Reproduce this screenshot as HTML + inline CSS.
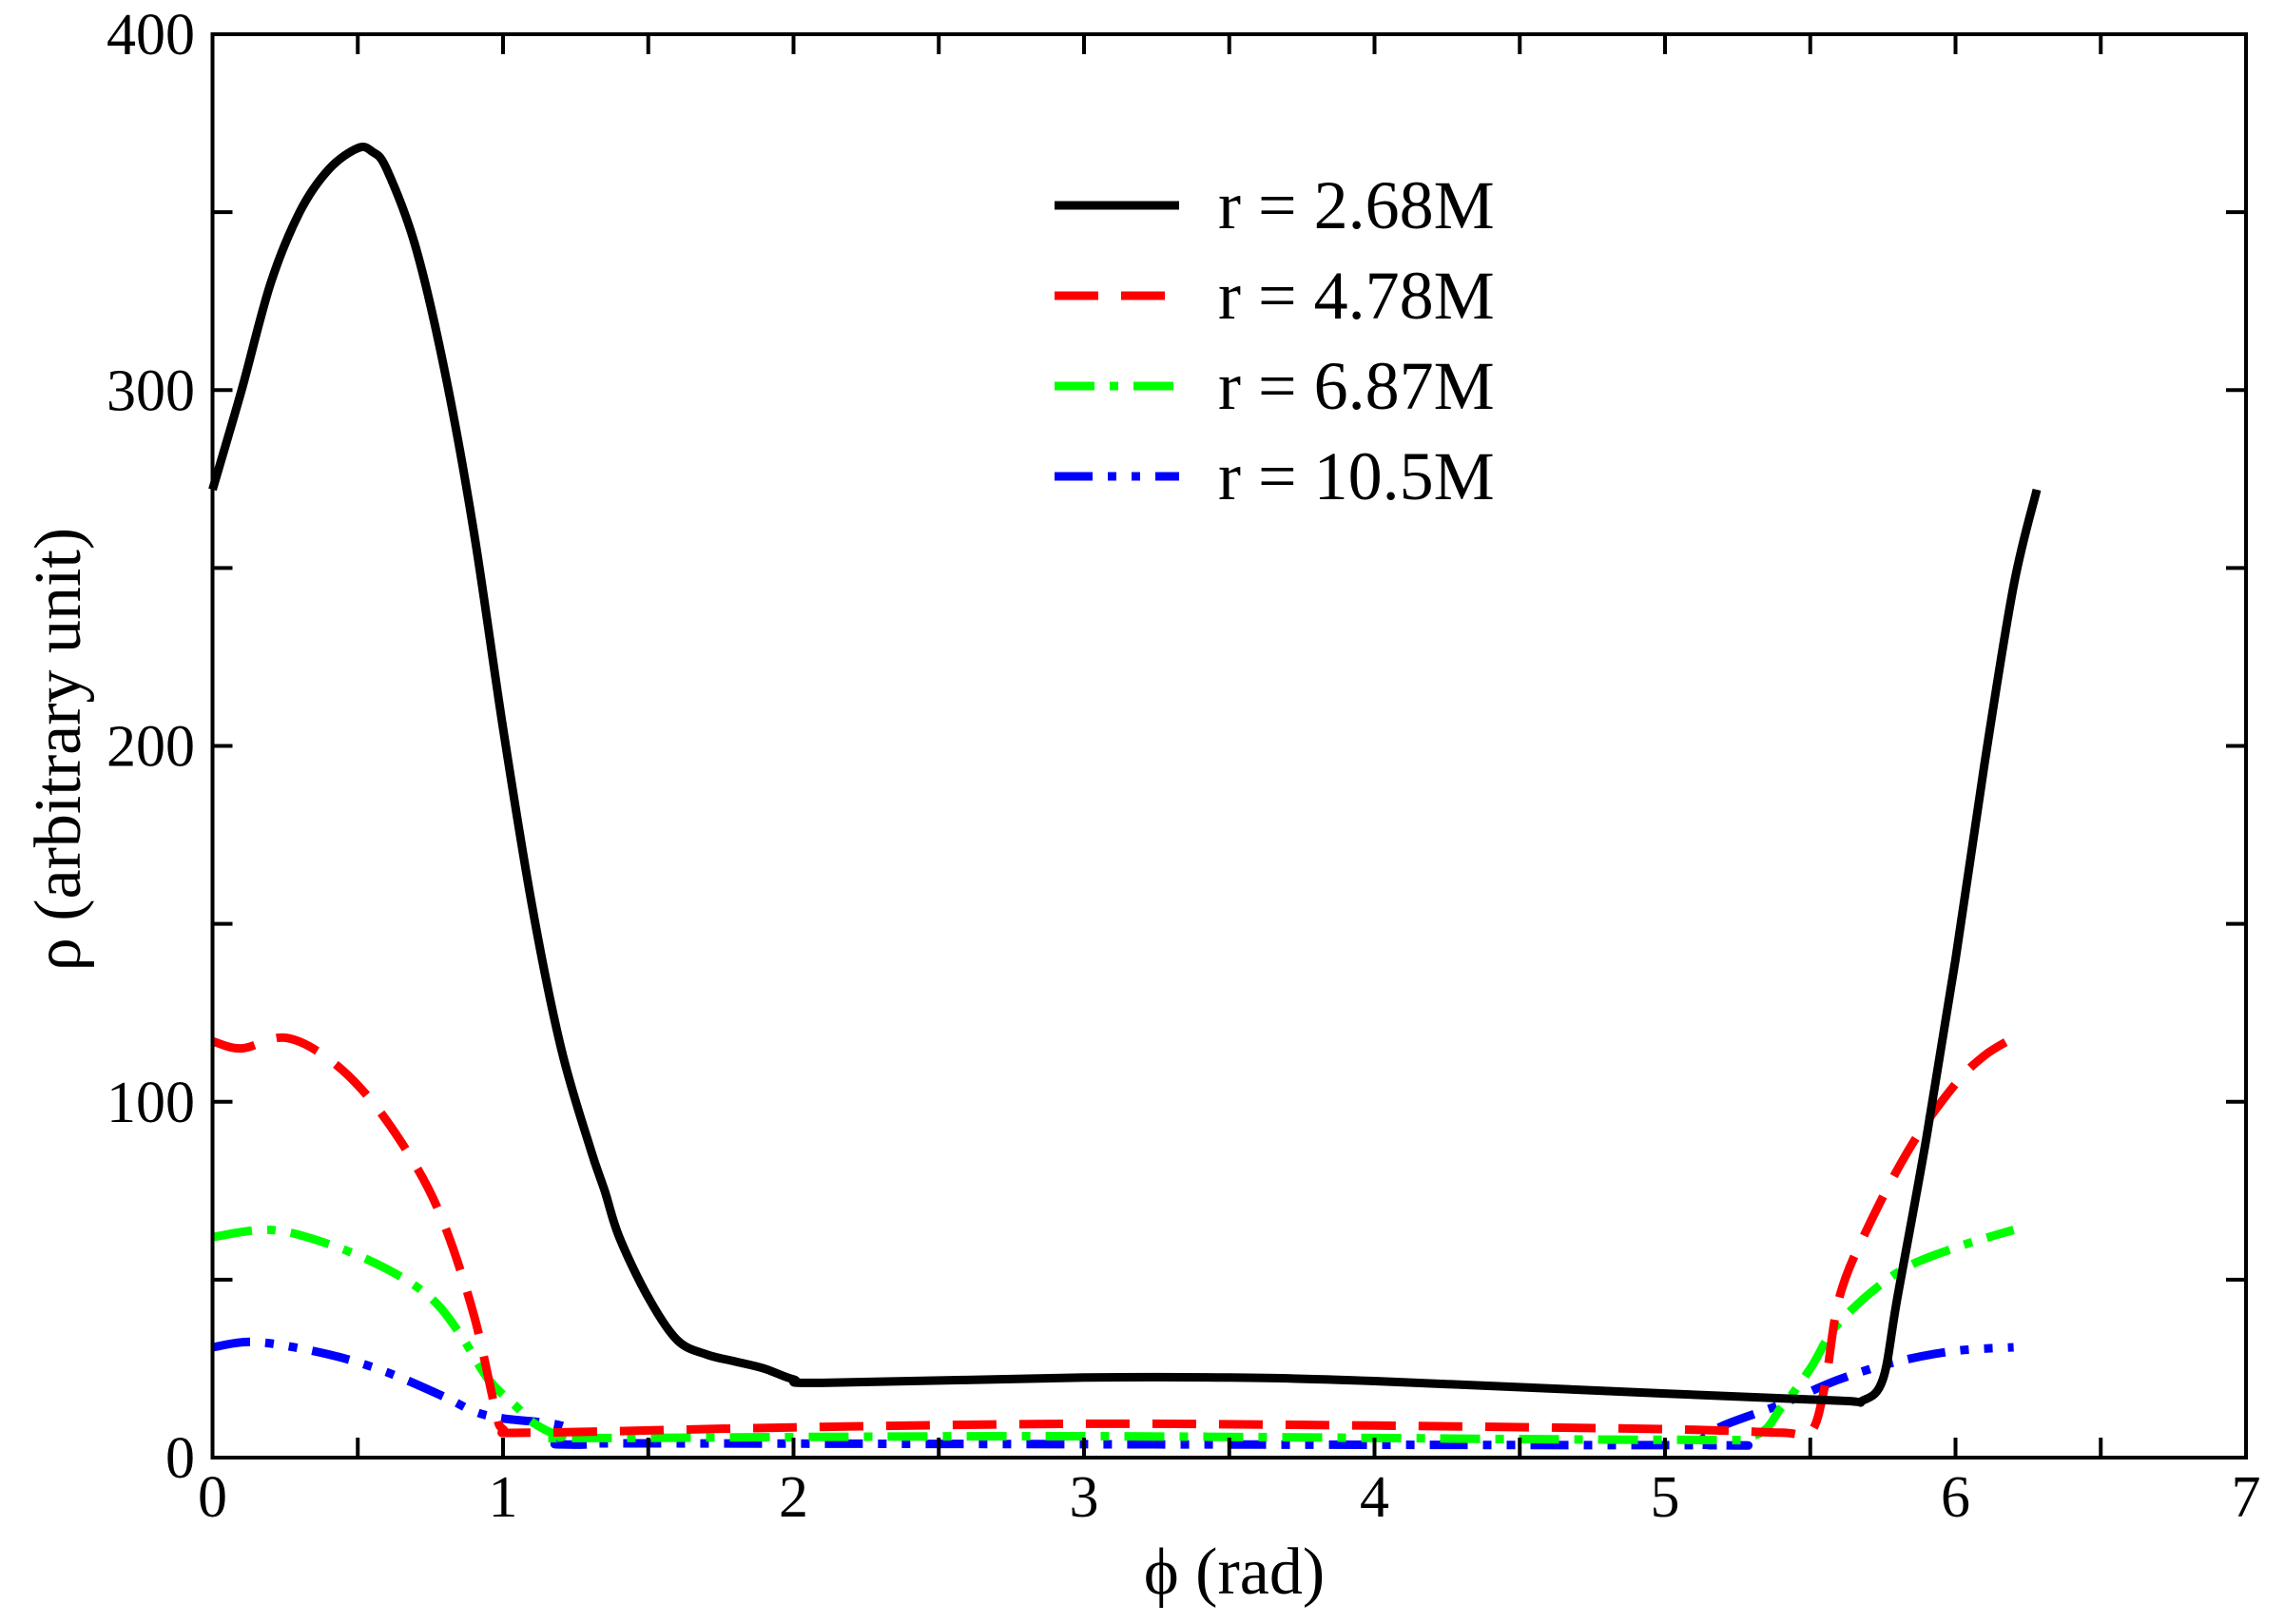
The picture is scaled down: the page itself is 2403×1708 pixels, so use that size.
<!DOCTYPE html>
<html><head><meta charset="utf-8"><style>body{margin:0;background:#fff}svg{display:block}</style></head><body>
<svg id="s" width="2403" height="1708" xmlns="http://www.w3.org/2000/svg" font-family="'Liberation Serif',serif"></svg>
<script>
const L=223.5,R=2362,T=36,B=1533;
const X=v=>L+(R-L)*v/7, Y=v=>B-(B-T)*v/400;
let h='<rect width="2403" height="1708" fill="#fff"/>';
function path(pts,col,dash){
 const P=pts.map(p=>[X(p[0]),Y(p[1])]);
 let d='M'+P[0][0].toFixed(1)+' '+P[0][1].toFixed(1);
 for(let i=0;i<P.length-1;i++){const p0=P[Math.max(0,i-1)],p1=P[i],p2=P[i+1],p3=P[Math.min(P.length-1,i+2)];
  const c1=[p1[0]+(p2[0]-p0[0])/6,p1[1]+(p2[1]-p0[1])/6],c2=[p2[0]-(p3[0]-p1[0])/6,p2[1]-(p3[1]-p1[1])/6];
  d+=' C'+c1.map(v=>v.toFixed(1)).join(' ')+' '+c2.map(v=>v.toFixed(1)).join(' ')+' '+p2.map(v=>v.toFixed(1)).join(' ');}
 return '<path d="'+d+'" fill="none" stroke="'+col+'" stroke-width="9" stroke-linejoin="round"'+(dash?' stroke-dasharray="'+dash+'"':'')+'/>';}
const black=[[0,272],[0.1,300],[0.2,330],[0.3,350],[0.4,362],[0.5,368],[0.55,367],[0.6,362],[0.7,340],[0.8,305],[0.9,260],[1.0,205],[1.1,155],[1.2,115],[1.3,87],[1.35,75],[1.4,62],[1.5,45],[1.6,33],[1.7,29],[1.8,27],[1.9,25],[2.0,22],[2.1,21],[3.0,22.5],[3.5,22.5],[4,21.5],[5,18],[5.6,16],[5.68,16],[5.75,22],[5.8,45],[5.9,90],[6.0,140],[6.1,195],[6.2,245],[6.28,272]];
const red=[[0,117],[0.1,115],[0.25,118],[0.4,112],[0.55,100],[0.7,82],[0.8,65],[0.9,40],[0.97,15],[1.0,8],[1.1,7],[2,8.5],[3,9.5],[4,9],[5,8],[5.4,7],[5.5,7],[5.55,20],[5.6,45],[5.7,65],[5.85,88],[6.0,105],[6.1,113],[6.2,118]];
const green=[[0,62],[0.2,64],[0.4,60],[0.6,53],[0.75,45],[0.85,35],[0.95,22],[1.05,14],[1.1,10],[1.2,6],[1.3,5.5],[3,6],[5,5],[5.3,6],[5.4,14],[5.5,25],[5.6,38],[5.8,52],[6.0,59],[6.2,64]];
const blue=[[0,31],[0.15,32.5],[0.4,29],[0.6,24],[0.8,17],[0.9,13],[1.0,11],[1.2,9],[1.3,4],[1.5,4],[5,3.5],[5.1,4],[5.2,9],[5.4,15],[5.6,22],[5.8,27],[6.0,30],[6.2,31]];
h+=path(blue,'#0000ff','40 16 9 16 9 16');
h+=path(green,'#00ff00','42 16 9 16');
h+=path(red,'#ff0000','46 24');
h+=path(black,'#000');
h+='<rect x="'+L+'" y="'+T+'" width="'+(R-L)+'" height="'+(B-T)+'" fill="none" stroke="#000" stroke-width="4"/>';
for(let i=0;i<=14;i++){const x=X(i/2);h+='<line x1="'+x+'" y1="'+B+'" x2="'+x+'" y2="'+(B-21)+'" stroke="#000" stroke-width="4"/><line x1="'+x+'" y1="'+T+'" x2="'+x+'" y2="'+(T+21)+'" stroke="#000" stroke-width="4"/>';
 if(i%2==0)h+='<text x="'+x+'" y="1595" font-size="62" text-anchor="middle">'+(i/2)+'</text>';}
for(let i=0;i<=8;i++){const y=Y(i*50);h+='<line x1="'+L+'" y1="'+y+'" x2="'+(L+21)+'" y2="'+y+'" stroke="#000" stroke-width="4"/><line x1="'+R+'" y1="'+y+'" x2="'+(R-21)+'" y2="'+y+'" stroke="#000" stroke-width="4"/>';
 if(i%2==0)h+='<text x="205" y="'+(y+21)+'" font-size="62" text-anchor="end">'+(i*50)+'</text>';}
h+='<text x="1298" y="1676" font-size="70" text-anchor="middle">ϕ (rad)</text>';
h+='<text transform="translate(84,788) rotate(-90)" font-size="70" text-anchor="middle">ρ (arbitrary unit)</text>';
const leg=[['r = 2.68M','#000',''],['r = 4.78M','#ff0000','46 24'],['r = 6.87M','#00ff00','42 16 9 16'],['r = 10.5M','#0000ff','40 16 9 16 9 16']];
leg.forEach((l,i)=>{const y=216+i*95;h+='<line x1="1109" y1="'+y+'" x2="1240" y2="'+y+'" stroke="'+l[1]+'" stroke-width="9"'+(l[2]?' stroke-dasharray="'+l[2]+'"':'')+'/><text x="1281" y="'+(y+24)+'" font-size="72">'+l[0]+'</text>';});
document.getElementById('s').innerHTML=h;
</script>
</body></html>
